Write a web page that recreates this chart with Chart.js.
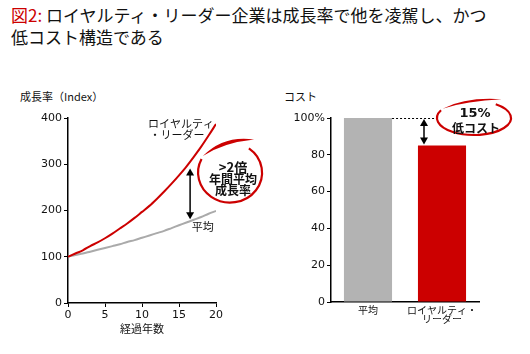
<!DOCTYPE html>
<html>
<head>
<meta charset="utf-8">
<script src="https://cdn.jsdelivr.net/npm/chart.js@4.4.1/dist/chart.umd.min.js"></script>
<style>
body { margin: 0; background: #fff; width: 530px; height: 354px; position: relative; overflow: hidden;
  font-family: "DejaVu Sans", "Noto Sans CJK JP", sans-serif; }
#title { position: absolute; left: 11px; top: 4px; font-size: 17px; line-height: 22px; color: #111;
  font-family: "Noto Sans CJK JP", sans-serif; }
#title span { color: #cc0000; }
.head { position: absolute; top: 88px; font-size: 11px; color: #111; font-family: "Noto Sans CJK JP", sans-serif; }
#growthChart { position: absolute; left: 0; top: 85px; }
#costChart { position: absolute; left: 270px; top: 85px; }
</style>
</head>
<body>
<div id="title"><span>図2:</span> ロイヤルティ・リーダー企業は成長率で他を凌駕し、かつ<br>低コスト構造である</div>
<div class="head" style="left:20px">成長率（Index）</div>
<div class="head" style="left:284px">コスト</div>
<canvas id="growthChart" width="270" height="269"></canvas>
<canvas id="costChart" width="260" height="269"></canvas>
<script>
// growth index by years elapsed
let years = [0,1,2,3,4,5,6,7,8,9,10,11,12,13,14,15,16,17,18,19,20]
let leaderIndex = [100,107,114,123,131,140,150,161,172,184,197,210,225,241,258,276,295,316,338,362,387]
let averageIndex = [100,104,107,111,115,119,123,127,132,136,141,146,151,156,162,168,174,180,186,193,199]
let growthTicks = [0,100,200,300,400]

// cost comparison
let costLabels = ['平均', ['ロイヤルティ・', 'リーダー']]
let costValues = [100, 85]
let costColors = ['#b3b3b3', '#cc0000']

Chart.defaults.font.family = '"DejaVu Sans", "Noto Sans CJK JP", sans-serif'
Chart.defaults.color = '#111'

const RED = '#cc0000'

function doubleArrow(ctx, x, y1, y2) {
	ctx.save()
	ctx.strokeStyle = '#000'
	ctx.fillStyle = '#000'
	ctx.lineWidth = 1.5
	ctx.beginPath()
	ctx.moveTo(x, y1 + 4)
	ctx.lineTo(x, y2 - 4)
	ctx.stroke()
	ctx.beginPath()
	ctx.moveTo(x, y1); ctx.lineTo(x - 4, y1 + 7); ctx.lineTo(x + 4, y1 + 7); ctx.closePath()
	ctx.fill()
	ctx.beginPath()
	ctx.moveTo(x, y2); ctx.lineTo(x - 4, y2 - 7); ctx.lineTo(x + 4, y2 - 7); ctx.closePath()
	ctx.fill()
	ctx.restore()
}

function swirl(ctx, cx, cy, rx, ry) {
	ctx.save()
	ctx.strokeStyle = RED
	ctx.fillStyle = RED
	ctx.lineWidth = 2.2
	ctx.beginPath()
	ctx.ellipse(cx, cy, rx, ry, 0, -Math.PI * 0.3, Math.PI * 1.15)
	ctx.stroke()
	// brush tail over the top
	let ax = cx - rx * 0.85, ay = cy - ry * 0.55
	let bx = cx + rx * 0.75, by = cy - ry * 1.1
	ctx.beginPath()
	ctx.moveTo(ax, ay)
	ctx.quadraticCurveTo(cx - rx * 0.2, cy - ry * 1.25, bx, by)
	ctx.quadraticCurveTo(cx - rx * 0.2, cy - ry * 1.0, ax, ay)
	ctx.fill()
	ctx.restore()
}

const growthNotes = {
	id: 'growthNotes',
	afterDraw(chart) {
		let ctx = chart.ctx
		let xs = chart.scales.x, ys = chart.scales.y
		let X = v => xs.getPixelForValue(v), Y = v => ys.getPixelForValue(v)
		ctx.save()
		ctx.fillStyle = '#111'
		ctx.textBaseline = 'middle'
		ctx.font = '11px "Noto Sans CJK JP"'
		ctx.textAlign = 'left'
		ctx.fillText('ロイヤルティ', X(10.8), Y(387))
		ctx.fillText('・リーダー', X(11), Y(363))
		ctx.textAlign = 'center'
		ctx.fillText('平均', X(18.2), Y(164))
		doubleArrow(ctx, X(16.5), Y(291), Y(181))
		swirl(ctx, X(21.9), Y(282), 32, 30)
		ctx.fillStyle = '#111'
		ctx.font = 'bold 13px "Noto Sans CJK JP"'
		ctx.fillText('>2倍', X(22.3), Y(295))
		ctx.font = 'bold 12px "Noto Sans CJK JP"'
		ctx.fillText('年間平均', X(22.3), Y(268))
		ctx.fillText('成長率', X(22.3), Y(244))
		ctx.restore()
	}
}

const costNotes = {
	id: 'costNotes',
	afterDraw(chart) {
		let ctx = chart.ctx
		let bars = chart.getDatasetMeta(0).data
		let b0 = bars[0], b1 = bars[1]
		ctx.save()
		ctx.strokeStyle = '#000'
		ctx.lineWidth = 1
		ctx.setLineDash([2, 2])
		ctx.beginPath()
		ctx.moveTo(b0.x + b0.width / 2, b0.y + 0.5)
		ctx.lineTo(b1.x - 7, b0.y + 0.5)
		ctx.stroke()
		ctx.setLineDash([])
		doubleArrow(ctx, b1.x - 18, b0.y + 1, b1.y - 1)
		swirl(ctx, b1.x + 32, b0.y, 37, 17)
		ctx.fillStyle = '#111'
		ctx.textAlign = 'center'
		ctx.textBaseline = 'middle'
		ctx.font = 'bold 13px "DejaVu Sans"'
		ctx.fillText('15%', b1.x + 33, b0.y - 4)
		ctx.font = 'bold 12px "Noto Sans CJK JP"'
		ctx.fillText('低コスト', b1.x + 34, b0.y + 10)
		ctx.restore()
	}
}

let axisGrid = { display: true, drawOnChartArea: false, drawTicks: true, tickLength: 4, color: '#000' }
let axisBorder = { display: true, color: '#000', width: 1.5 }

let ctx1 = document.getElementById('growthChart').getContext('2d')
var growthChart = new Chart(ctx1, {
	type: 'line',
	data: {
		datasets: [{
			label: 'ロイヤルティ・リーダー',
			data: years.map((x, i) => ({ x: x, y: leaderIndex[i] })),
			borderColor: RED,
			borderWidth: 2,
			pointRadius: 0,
			cubicInterpolationMode: 'monotone'
		}, {
			label: '平均',
			data: years.map((x, i) => ({ x: x, y: averageIndex[i] })),
			borderColor: '#aaaaaa',
			borderWidth: 2,
			pointRadius: 0,
			cubicInterpolationMode: 'monotone'
		}]
	},
	options: {
		responsive: false,
		animation: false,
		devicePixelRatio: 1,
		layout: { padding: { top: 33, right: 54, left: 0, bottom: 18 } },
		plugins: { legend: { display: false }, tooltip: { enabled: false } },
		scales: {
			x: {
				type: 'linear', min: 0, max: 20,
				ticks: { stepSize: 5, color: '#111', font: { size: 11 }, padding: 2 },
				grid: axisGrid, border: axisBorder,
				title: { display: true, text: '経過年数', color: '#111', font: { size: 11, family: '"Noto Sans CJK JP"' }, padding: 1 },
				afterFit: s => { s.height = 33 }
			},
			y: {
				min: 0, max: 400,
				afterBuildTicks: s => { s.ticks = growthTicks.map(v => ({ value: v })) },
				ticks: { color: '#111', font: { size: 11 }, padding: 2 },
				grid: axisGrid, border: axisBorder,
				afterFit: s => { s.width = 68 }
			}
		}
	},
	plugins: [growthNotes]
})

let ctx2 = document.getElementById('costChart').getContext('2d')
var costChart = new Chart(ctx2, {
	type: 'bar',
	data: {
		labels: costLabels,
		datasets: [{
			label: 'コスト',
			data: costValues,
			backgroundColor: costColors,
			barPercentage: 0.65,
			categoryPercentage: 1.0
		}]
	},
	options: {
		responsive: false,
		animation: false,
		devicePixelRatio: 1,
		layout: { padding: { top: 33, right: 51, left: 0, bottom: 0 } },
		plugins: { legend: { display: false }, tooltip: { enabled: false } },
		scales: {
			x: {
				ticks: { color: '#111', font: { size: 10, family: '"Noto Sans CJK JP"', lineHeight: 0.95 }, padding: 3, maxRotation: 0 },
				grid: { display: true, drawOnChartArea: false, drawTicks: false },
				border: axisBorder,
				afterFit: s => { s.height = 52 }
			},
			y: {
				min: 0, max: 100,
				ticks: { stepSize: 20, color: '#111', font: { size: 11 }, padding: 2,
					callback: v => v === 100 ? '100%' : v },
				grid: axisGrid, border: axisBorder,
				afterFit: s => { s.width = 61 }
			}
		}
	},
	plugins: [costNotes]
})
</script>
</body>
</html>
